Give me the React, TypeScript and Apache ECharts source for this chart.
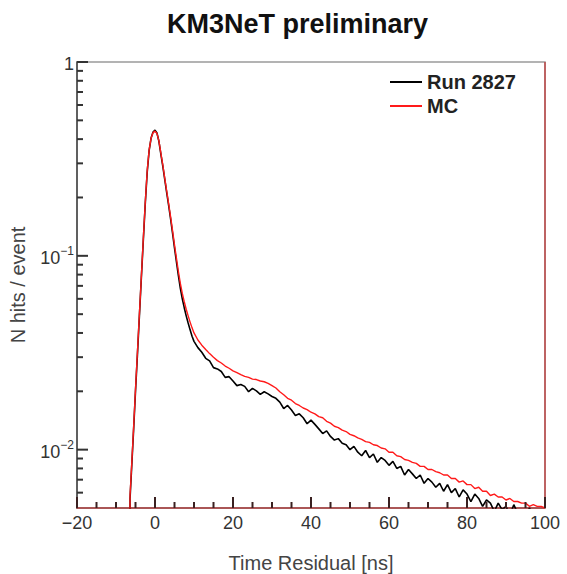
import React, { useEffect, useRef } from "react";
import * as echarts from "echarts";

const timeNs = [
  -6.5, -6.4, -6, -5.5, -5, -4.5, -4, -3.5, -3, -2.5, -2, -1.5, -1, -0.5, 0, 0.5, 1, 1.5, 2, 2.5, 3, 3.5,
  4, 4.5, 5, 5.5, 6, 6.5, 7, 7.5, 8, 8.5, 9, 9.5, 10,
  11, 12, 13, 14, 15, 16, 17, 18, 19, 20, 21, 22, 23, 24, 25, 26, 27, 28, 29, 30,
  31, 32, 33, 34, 35, 36, 37, 38, 39, 40, 41, 42, 43, 44, 45, 46, 47, 48, 49, 50,
  51, 52, 53, 54, 55, 56, 57, 58, 59, 60, 61, 62, 63, 64, 65, 66, 67, 68, 69, 70,
  71, 72, 73, 74, 75, 76, 77, 78, 79, 80, 81, 82, 83, 84, 85, 86, 87, 88, 89, 90,
  91, 92, 93, 94, 95, 96, 97, 98, 99, 100,
];

const run2827 = [
  0.001, 0.0056, 0.008, 0.0125, 0.02, 0.031, 0.049, 0.077, 0.12, 0.185, 0.27, 0.35, 0.405, 0.435, 0.445,
  0.43, 0.39, 0.335, 0.29, 0.248, 0.212, 0.182, 0.155, 0.131, 0.11, 0.093, 0.079, 0.068, 0.06, 0.054,
  0.049, 0.045, 0.0415, 0.0385, 0.0362,
  0.0336, 0.0318, 0.0296, 0.0287, 0.0265, 0.0261, 0.0253, 0.0236, 0.0238, 0.0226,
  0.0214, 0.0217, 0.0212, 0.0199, 0.0207, 0.0201, 0.0193, 0.0199, 0.0194, 0.0188,
  0.0184, 0.0176, 0.0163, 0.0169, 0.016, 0.015, 0.0153, 0.0146, 0.0136, 0.0142,
  0.0135, 0.0128, 0.0121, 0.0125, 0.0117, 0.0112, 0.0114, 0.0108, 0.0106, 0.01,
  0.0104, 0.0097, 0.0093, 0.0099, 0.0091, 0.0095, 0.0086, 0.0091, 0.0088, 0.0083,
  0.0087, 0.008, 0.0082, 0.0074, 0.0079, 0.0075, 0.0071, 0.0074, 0.0067, 0.0071,
  0.0068, 0.0064, 0.0067, 0.0061, 0.0066, 0.006, 0.0063, 0.0057, 0.0062, 0.0059,
  0.0054, 0.0059, 0.0056, 0.0051, 0.0055, 0.0053, 0.0048, 0.0053, 0.0049, 0.0051,
  0.0046, 0.0052, 0.0047, 0.0049, 0.0045, 0.0050, 0.0046, 0.0048, 0.0045, 0.0048,
];

const mcValues = [
  0.001, 0.0058, 0.0082, 0.0128, 0.0205, 0.032, 0.05, 0.078, 0.122, 0.188, 0.275, 0.352, 0.405, 0.432, 0.44,
  0.428, 0.392, 0.34, 0.295, 0.252, 0.216, 0.186, 0.159, 0.135, 0.114, 0.097, 0.083, 0.072, 0.064, 0.058,
  0.053, 0.049, 0.0455, 0.0425, 0.04,
  0.0368, 0.0346, 0.0329, 0.0313, 0.03, 0.0288, 0.028, 0.027, 0.0263, 0.0255,
  0.025, 0.0244, 0.0239, 0.0236, 0.0231, 0.023, 0.0226, 0.0224, 0.022, 0.0214,
  0.0208, 0.0199, 0.0192, 0.0184, 0.018, 0.0173, 0.0169, 0.0164, 0.0161, 0.0156,
  0.0153, 0.0148, 0.0146, 0.014, 0.0137, 0.0132, 0.013, 0.0126, 0.0124, 0.012,
  0.0118, 0.0115, 0.0113, 0.011, 0.0109, 0.0106, 0.0105, 0.0102, 0.0101, 0.0097,
  0.0097, 0.0093, 0.0092, 0.0089, 0.0088, 0.0086, 0.0085, 0.0082, 0.0082, 0.0079,
  0.0079, 0.0077, 0.0076, 0.0074, 0.0074, 0.0071, 0.0071, 0.0068, 0.0069, 0.0066,
  0.0066, 0.0063, 0.0064, 0.0061, 0.0061, 0.0058, 0.0059, 0.0057, 0.0057, 0.0055,
  0.0056, 0.0054, 0.0054, 0.0053, 0.0053, 0.0051, 0.0052, 0.0051, 0.0051, 0.005,
];

const xMajorTicks = [-20, 0, 20, 40, 60, 80, 100];
const xMinorTicks = [-15, -10, -5, 5, 10, 15, 25, 30, 35, 45, 50, 55, 65, 70, 75, 85, 90, 95];
const yMajorTicks = [0.01, 0.1, 1];
const yMinorTicks = [
  0.006, 0.007, 0.008, 0.009,
  0.02, 0.03, 0.04, 0.05, 0.06, 0.07, 0.08, 0.09,
  0.2, 0.3, 0.4, 0.5, 0.6, 0.7, 0.8, 0.9,
];

const X_MIN = -20;
const X_MAX = 100;
const Y_MIN = 0.005;
const Y_MAX = 1;

const FONT = "'Liberation Sans', Arial, Helvetica, sans-serif";

export default function App() {
  const ref = useRef<HTMLDivElement>(null);
  useEffect(() => {
    if (!ref.current) return;
    const chart = echarts.init(ref.current, null, { renderer: "svg" });
    const runData = timeNs.map((t, i) => [t, run2827[i]]);
    const mcData = timeNs.map((t, i) => [t, mcValues[i]]);
    const yLabel = (v: number) => {
      const l = Math.log10(v);
      const e = Math.round(l);
      if (Math.abs(l - e) > 1e-6) return "";
      if (e === 0) return "{b|1}";
      return `{b|10}{s|\u2212${Math.abs(e)}}`;
    };
    const xTickData = [
      ...xMajorTicks.map((t) => [t, Y_MIN, 11]),
      ...xMinorTicks.map((t) => [t, Y_MIN, 6]),
    ];
    const yTickData = [
      ...yMajorTicks.map((v) => [X_MIN, v, 11]),
      ...yMinorTicks.map((v) => [X_MIN, v, 6]),
    ];
    chart.setOption({
      animation: false,
      title: {
        text: "KM3NeT preliminary",
        left: 162,
        top: 5,
        textStyle: { fontFamily: FONT, fontSize: 27, fontWeight: "bold", color: "#111" },
      },
      legend: {
        orient: "vertical",
        left: 385,
        top: 67,
        itemGap: 4,
        itemWidth: 32,
        itemHeight: 2,
        icon: "rect",
        textStyle: { fontFamily: FONT, fontSize: 20, fontWeight: "bold", color: "#222" },
        data: ["Run 2827", "MC"],
      },
      grid: {
        left: 77,
        right: 22,
        top: 62,
        bottom: 66,
        outerBoundsMode: "none",
        show: true,
        borderColor: "#9a9a9a",
        borderWidth: 1.5,
        backgroundColor: "transparent",
      },
      xAxis: {
        type: "value",
        min: X_MIN,
        max: X_MAX,
        interval: 20,
        name: "Time Residual [ns]",
        nameLocation: "middle",
        nameGap: 45,
        nameTextStyle: { fontFamily: FONT, fontSize: 20, color: "#444" },
        axisLine: { show: true, onZero: false, lineStyle: { color: "#a83838", width: 1.5 } },
        axisTick: { show: false },
        axisLabel: {
          show: true,
          margin: 6,
          fontFamily: FONT,
          fontSize: 18,
          color: "#333",
          formatter: (v: number) => (v < 0 ? "\u2212" + Math.abs(v) : String(v)),
        },
        splitLine: { show: false },
      },
      yAxis: {
        type: "log",
        logBase: 10,
        min: Y_MIN,
        max: Y_MAX,
        name: "N hits / event",
        nameLocation: "middle",
        nameGap: 49,
        nameTextStyle: { fontFamily: FONT, fontSize: 20, color: "#444" },
        axisLine: { show: true, onZero: false, lineStyle: { color: "#444", width: 1.5 } },
        axisTick: { show: false },
        axisLabel: {
          show: true,
          margin: 3,
          formatter: yLabel,
          rich: {
            b: { fontFamily: FONT, fontSize: 18, color: "#333", lineHeight: 22, verticalAlign: "bottom" },
            s: { fontFamily: FONT, fontSize: 12, color: "#333", lineHeight: 12, verticalAlign: "top" },
          },
        },
        splitLine: { show: false },
      },
      series: [
        {
          name: "xTicks",
          type: "custom",
          clip: false,
          silent: true,
          z: 6,
          data: xTickData,
          renderItem: (params: any, api: any) => {
            const p = api.coord([api.value(0), api.value(1)]);
            const len = api.value(2);
            return {
              type: "line",
              shape: { x1: p[0], y1: p[1], x2: p[0], y2: p[1] - len },
              style: { stroke: "#3a2020", lineWidth: 2 },
            };
          },
        },
        {
          name: "yTicks",
          type: "custom",
          clip: false,
          silent: true,
          z: 6,
          data: yTickData,
          renderItem: (params: any, api: any) => {
            const p = api.coord([api.value(0), api.value(1)]);
            const len = api.value(2);
            return {
              type: "line",
              shape: { x1: p[0], y1: p[1], x2: p[0] + len, y2: p[1] },
              style: { stroke: "#333333", lineWidth: 2 },
            };
          },
        },
        {
          name: "Run 2827",
          type: "line",
          data: runData,
          showSymbol: false,
          symbol: "none",
          color: "#000000",
          lineStyle: { color: "#000000", width: 1.6 },
          clip: true,
          z: 2,
        },
        {
          name: "MC",
          type: "line",
          data: mcData,
          showSymbol: false,
          symbol: "none",
          color: "#ff1a1a",
          lineStyle: { color: "#ff1a1a", width: 1.4 },
          clip: true,
          z: 3,
          markLine: {
            silent: true,
            symbol: "none",
            label: { show: false },
            lineStyle: { color: "#c04848", width: 1.5, type: "solid" },
            data: [{ xAxis: X_MAX }],
          },
        },
      ],
    });
    return () => chart.dispose();
  }, []);
  return (
    <div
      ref={ref}
      style={{ position: "fixed", left: 0, top: 0, width: 567, height: 574, background: "#fff" }}
    />
  );
}
